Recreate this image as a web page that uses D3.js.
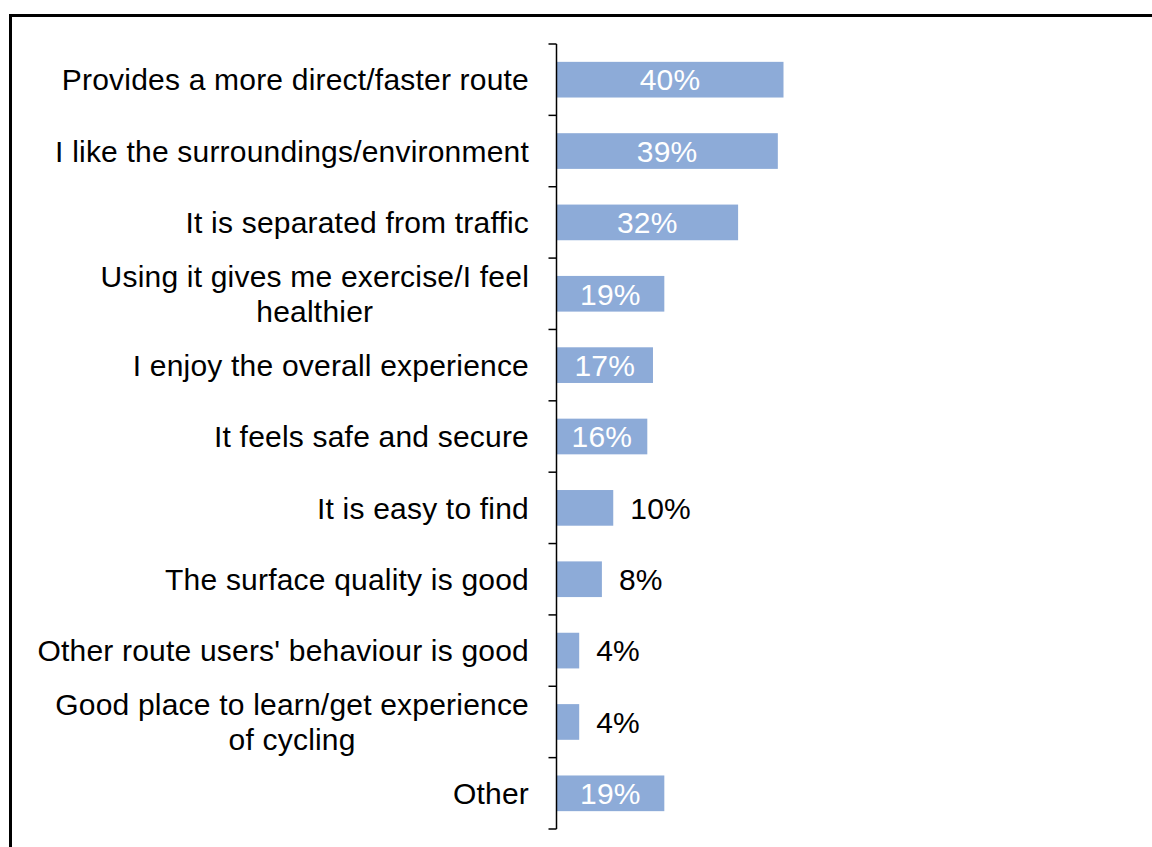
<!DOCTYPE html>
<html lang="en">
<head>
    <meta charset="UTF-8">
    <title>Reasons for using the route</title>
    <script src="https://cdn.jsdelivr.net/npm/d3@7"></script>
    <style>
        body { margin: 0; background: #fff; }
        text { font-family: "Liberation Sans", Arial, sans-serif; letter-spacing: 0.2px; }
    </style>
</head>
<body>
    <script>
        // data
        let categories = [
            ['Provides a more direct/faster route'],
            ['I like the surroundings/environment'],
            ['It is separated from traffic'],
            ['Using it gives me exercise/I feel', 'healthier'],
            ['I enjoy the overall experience'],
            ['It feels safe and secure'],
            ['It is easy to find'],
            ['The surface quality is good'],
            ["Other route users' behaviour is good"],
            ['Good place to learn/get experience', 'of cycling'],
            ['Other']
        ];
        let values = [40, 39, 32, 19, 17, 16, 10, 8, 4, 4, 19];
        let insideMin = 16; // labels at or above this sit inside the bar

        let width = 1152;
        let height = 847;
        let axisX = 556.5;
        let fontSize = 30;

        let svg = d3.select('body')
                    .append('svg')
                    .attr('width', width)
                    .attr('height', height);

        // frame
        svg.append('rect')
            .attr('x', 10.5)
            .attr('y', 15.5)
            .attr('width', width)
            .attr('height', height)
            .attr('fill', 'none')
            .attr('stroke', '#000')
            .attr('stroke-width', 3);

        let idx = d3.range(values.length);

        let y = d3.scaleBand()
                    .domain(idx)
                    .range([44, 829])
                    .paddingInner(0.5)
                    .paddingOuter(0.25);

        let x = d3.scaleLinear()
                    .domain([0, 40])
                    .range([axisX, axisX + 227]);

        let step = y.step();
        let catTop = i => y(i) - step * 0.25;

        // bars
        svg.append('g')
            .selectAll('rect')
            .data(idx)
            .enter()
            .append('rect')
            .attr('x', x(0))
            .attr('y', i => y(i))
            .attr('width', i => x(values[i]) - x(0))
            .attr('height', y.bandwidth())
            .attr('fill', '#8dabd8');

        // axis line + ticks at category boundaries
        let ax = svg.append('g').attr('stroke', '#000').attr('stroke-width', 1.5);
        ax.append('line')
            .attr('x1', axisX).attr('x2', axisX)
            .attr('y1', y.range()[0]).attr('y2', y.range()[1]);
        ax.selectAll('line.tick')
            .data(d3.range(values.length + 1))
            .enter()
            .append('line')
            .attr('class', 'tick')
            .attr('x1', axisX - 8).attr('x2', axisX)
            .attr('y1', i => i < values.length ? catTop(i) : y.range()[1])
            .attr('y2', i => i < values.length ? catTop(i) : y.range()[1]);

        // value labels
        svg.append('g')
            .selectAll('text')
            .data(idx)
            .enter()
            .append('text')
            .attr('x', i => values[i] >= insideMin ? (x(0) + x(values[i])) / 2 : x(values[i]) + 17)
            .attr('y', i => y(i) + y.bandwidth() / 2)
            .attr('dy', '0.36em')
            .attr('text-anchor', i => values[i] >= insideMin ? 'middle' : 'start')
            .attr('fill', i => values[i] >= insideMin ? '#fff' : '#000')
            .style('font-size', fontSize + 'px')
            .text(i => values[i] + '%');

        // category labels, multi-line ones centred within a right-aligned block
        let labelRight = 529;
        let lineH = 35;
        let lab = svg.append('g')
            .selectAll('text')
            .data(idx)
            .enter()
            .append('text')
            .style('font-size', fontSize + 'px')
            .attr('fill', '#000');

        lab.each(function(i) {
            let t = d3.select(this);
            let lines = categories[i];
            let cy = y(i) + y.bandwidth() / 2;
            let spans = lines.map((s, k) => t.append('tspan')
                .attr('y', cy + (k - (lines.length - 1) / 2) * lineH)
                .attr('dy', '0.36em')
                .text(s));
            let w = d3.max(spans, s => s.node().getComputedTextLength());
            let cx = labelRight - w / 2;
            spans.forEach(s => s.attr('x', cx).attr('text-anchor', 'middle'));
        });
    </script>
</body>
</html>
